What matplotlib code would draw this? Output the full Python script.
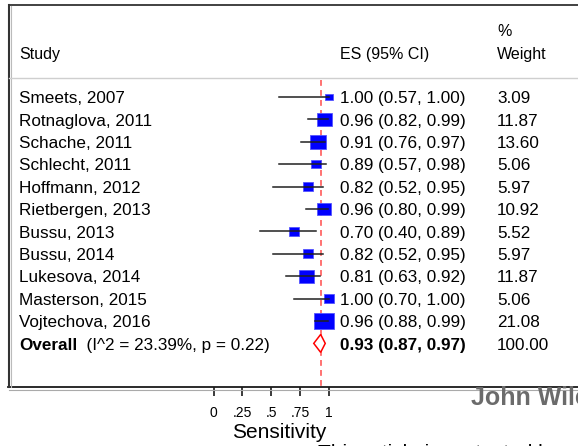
import numpy as np
import matplotlib
matplotlib.use("Agg")
import matplotlib.pyplot as plt
from matplotlib.patches import Rectangle, Polygon
from matplotlib.lines import Line2D

plt.rcParams['font.family'] = ['Liberation Sans', 'DejaVu Sans']

# study-level sensitivity estimates
studies = ["Smeets, 2007", "Rotnaglova, 2011", "Schache, 2011", "Schlecht, 2011",
           "Hoffmann, 2012", "Rietbergen, 2013", "Bussu, 2013", "Bussu, 2014",
           "Lukesova, 2014", "Masterson, 2015", "Vojtechova, 2016"]
es = [1.00, 0.96, 0.91, 0.89, 0.82, 0.96, 0.70, 0.82, 0.81, 1.00, 0.96]
ci_lo = [0.57, 0.82, 0.76, 0.57, 0.52, 0.80, 0.40, 0.52, 0.63, 0.70, 0.88]
ci_hi = [1.00, 0.99, 0.97, 0.98, 0.95, 0.99, 0.89, 0.95, 0.92, 1.00, 0.99]
weights = [3.09, 11.87, 13.60, 5.06, 5.97, 10.92, 5.52, 5.97, 11.87, 5.06, 21.08]

# pooled estimate
overall_es, overall_lo, overall_hi = 0.93, 0.87, 0.97
overall_weight = 100.00
i_sq, p_het = 23.39, 0.22

xticks = [0, 0.25, 0.5, 0.75, 1]
xtick_labels = ["0", ".25", ".5", ".75", "1"]

W, H = 578, 446
fig = plt.figure(figsize=(W / 100, H / 100), dpi=100)

# layout in pixels (from top-left)
x0_px, unit_px = 213.7, 115.0   # where 0 sits, pixels per unit
row0_px, row_px = 97.0, 22.4    # first row centre, row spacing
axis_px = 387.0                 # axis line


def px2x(px):
    return (px - x0_px) / unit_px


def px2y(py):
    return (py - row0_px) / row_px


def fig_line(xs, ys, **kw):
    fig.add_artist(Line2D([x / W for x in xs], [1 - y / H for y in ys],
                          transform=fig.transFigure, **kw))


ax = fig.add_axes([0, (H - axis_px) / H, 1, axis_px / H])
ax.set_xlim(px2x(0), px2x(W))
ax.set_ylim(px2y(axis_px), px2y(0))
for s in ["left", "top", "right"]:
    ax.spines[s].set_visible(False)
ax.spines["bottom"].set_bounds(px2x(8), px2x(W))
ax.spines["bottom"].set_linewidth(1.3)
ax.spines["bottom"].set_color("#1a1a1a")
ax.set_yticks([])
ax.set_xticks(xticks)
ax.set_xticklabels(xtick_labels)
ax.tick_params(axis="x", direction="out", length=6.5, width=1.2, pad=7,
               labelsize=10, color="#1a1a1a")
ax.set_xlabel("Sensitivity", fontsize=15)
ax.xaxis.set_label_coords(279 / W, (axis_px - 423) / axis_px)

# box frame and header rule
fig_line([8.5, W], [5, 5], color="#333333", lw=1.3)
fig_line([8.5, 8.5], [5, axis_px], color="#333333", lw=1.5)
fig_line([10.5, 10.5], [6, axis_px], color="#bbbbbb", lw=0.8)
fig_line([9, W], [389.5, 389.5], color="#aaaaaa", lw=0.8)
fig_line([9, W], [78, 78], color="#cfcfcf", lw=1.0)

# reference line at the pooled estimate
ax.plot([overall_es, overall_es], [px2y(80), px2y(axis_px)], color="#ff5a5a",
        lw=1.2, ls=(0, (3.5, 2.5)), zorder=1)

fs = 12.3
col_study, col_es, col_wt = px2x(19), px2x(340), px2x(497)
base = 0.28  # baseline offset below the row centre

for i, (name, e, lo, hi, w) in enumerate(zip(studies, es, ci_lo, ci_hi, weights)):
    side = 4.356 * np.sqrt(w)
    bw = side / unit_px
    bh = 0.85 * side / row_px
    ax.add_patch(Rectangle((e - bw / 2, i - bh / 2), bw, bh, facecolor="#0000ff",
                           edgecolor="#5555ff", lw=0.6, zorder=2))
    ax.plot([lo, hi], [i, i], color="#202020", lw=1.1, zorder=3)
    ax.text(col_study, i + base, name, fontsize=fs, va="baseline")
    ax.text(col_es, i + base, f"{e:.2f} ({lo:.2f}, {hi:.2f})", fontsize=fs, va="baseline")
    ax.text(col_wt, i + base, f"{w:.2f}", fontsize=fs, va="baseline")

# pooled diamond
k = len(studies)
dh = 0.4
ax.add_patch(Polygon([(overall_lo, k), (overall_es, k - dh), (overall_hi, k),
                      (overall_es, k + dh)], closed=True, facecolor="white",
                     edgecolor="#ff0000", lw=1.1, zorder=3))
t = ax.text(col_study, k + base, "Overall", fontsize=fs, fontweight="bold", va="baseline")
ax.annotate(f"  (I^2 = {i_sq:.2f}%, p = {p_het:.2f})", xycoords=t, xy=(1, 0),
            va="bottom", fontsize=fs)
ax.text(col_es, k + base, f"{overall_es:.2f} ({overall_lo:.2f}, {overall_hi:.2f})",
        fontsize=fs, fontweight="bold", va="baseline")
ax.text(col_wt, k + base, f"{overall_weight:.2f}", fontsize=fs, va="baseline")

# column headers
hs = 11.5
ax.text(col_study, px2y(59.5), "Study", fontsize=hs, va="baseline")
ax.text(col_es, px2y(59.5), "ES (95% CI)", fontsize=hs, va="baseline")
ax.text(col_wt, px2y(36), "%", fontsize=hs, va="baseline")
ax.text(col_wt, px2y(59.5), "Weight", fontsize=hs, va="baseline")

# publisher marks along the bottom edge
fig.text(471 / W, 1 - 405.5 / H, "John Wiley & Sons, Inc.", fontsize=18,
         fontweight="bold", color="#6b6b6b", va="baseline")
fig.text(318 / W, 1 - 459 / H, "This article is protected by copyright. All rights reserved.",
         fontsize=15, color="black", va="baseline")

fig.savefig("out.png", dpi=100)
